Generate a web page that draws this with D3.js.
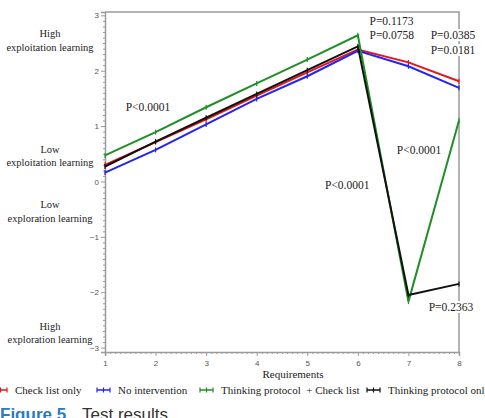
<!DOCTYPE html>
<html>
<head>
<meta charset="utf-8">
<script src="https://cdn.jsdelivr.net/npm/d3@7"></script>
<style>
  body { margin: 0; background: #fff; }
  svg { display: block; }
</style>
</head>
<body>
<div id="chart"></div>
<script>
// values
const requirements = [1, 2, 3, 4, 5, 6, 7, 8]
const checkListOnly = [0.30, 0.71, 1.12, 1.55, 1.97, 2.38, 2.15, 1.81]
const noIntervention = [0.16, 0.57, 1.03, 1.49, 1.90, 2.36, 2.08, 1.69]
const thinkingPlusCheck = [0.47, 0.89, 1.34, 1.77, 2.20, 2.64, -2.17, 1.10]
const thinkingOnly = [0.27, 0.72, 1.15, 1.58, 2.01, 2.44, -2.05, -1.85]

const seriesNames = ['Check list only', 'No intervention', 'Thinking protocol  + Check list', 'Thinking protocol only']
const seriesColors = ['#e8141b', '#2424f0', '#1f8f26', '#111111']
const yTicks = [3, 2, 1, 0, -1, -2, -3]

// level labels: [line 1, line 2, y value]
const levelLabels = [
    ['High', 'exploitation learning', 2.6],
    ['Low', 'exploitation learning', 0.52],
    ['Low', 'exploration learning', -0.48],
    ['High', 'exploration learning', -2.68]
]

// p-value notes: [text, x, y]
const pNotes = [
    ['P<0.0001', 1.41, 1.27],
    ['P=0.1173', 6.23, 2.83],
    ['P=0.0758', 6.23, 2.57],
    ['P=0.0385', 7.44, 2.57],
    ['P=0.0181', 7.44, 2.30],
    ['P<0.0001', 6.77, 0.50],
    ['P<0.0001', 5.35, -0.13],
    ['P=0.2363', 7.40, -2.34]
]

const W = 485
const H = 418
const plotLeft = 105
const plotRight = 459
const plotTop = 12
const plotBottom = 352

const svg = d3.select('#chart').append('svg')
    .attr('width', W)
    .attr('height', H)

const x = d3.scaleLinear().domain([1, 8]).range([plotLeft, plotRight])
const y = d3.scaleLinear().domain([-3.08, 3.06]).range([plotBottom, plotTop])

const serif = '\'Liberation Serif\', \'Times New Roman\', serif'
const axisGray = '#9a9a9a'

// frame (top and right)
svg.append('path')
    .attr('d', `M${plotLeft},${plotTop}H${plotRight}V${plotBottom}`)
    .attr('fill', 'none')
    .attr('stroke', axisGray)
    .attr('stroke-width', 1.5)

// minor ticks
const yMinor = d3.range(-30, 31).map(d => d / 10).filter(d => !yTicks.includes(d))
svg.append('g')
    .attr('transform', `translate(${plotLeft},0)`)
    .call(d3.axisLeft(y).tickValues(yMinor).tickSize(2).tickFormat(''))
    .call(g => g.select('.domain').remove())
    .call(g => g.selectAll('line').attr('stroke', axisGray))
const xMinor = d3.range(10, 81).map(d => d / 10).filter(d => !requirements.includes(d))
svg.append('g')
    .attr('transform', `translate(0,${plotBottom})`)
    .call(d3.axisBottom(x).tickValues(xMinor).tickSize(2).tickFormat(''))
    .call(g => g.select('.domain').remove())
    .call(g => g.selectAll('line').attr('stroke', axisGray))

// main axes
svg.append('g')
    .attr('transform', `translate(${plotLeft},0)`)
    .call(d3.axisLeft(y).tickValues(yTicks).tickSize(4).tickPadding(2).tickFormat(d3.format('d')))
    .call(g => g.select('.domain').attr('stroke', axisGray).attr('stroke-width', 1.5))
    .call(g => g.selectAll('line').attr('stroke', axisGray))
    .call(g => g.selectAll('text').attr('fill', '#555').attr('font-size', 8).attr('font-family', 'Arial, sans-serif'))

svg.append('g')
    .attr('transform', `translate(0,${plotBottom})`)
    .call(d3.axisBottom(x).tickValues(requirements).tickSize(4).tickPadding(4).tickFormat(d3.format('d')))
    .call(g => g.select('.domain').attr('stroke', axisGray).attr('stroke-width', 1.5))
    .call(g => g.selectAll('line').attr('stroke', axisGray))
    .call(g => g.selectAll('text').attr('fill', '#555').attr('font-size', 8).attr('font-family', 'Arial, sans-serif'))

svg.append('text')
    .attr('x', 293)
    .attr('y', 378)
    .attr('text-anchor', 'middle')
    .attr('font-family', serif)
    .attr('font-size', 11)
    .attr('fill', '#222')
    .text('Requirements')

// level labels
levelLabels.forEach(d => {
    const t = svg.append('text')
        .attr('text-anchor', 'middle')
        .attr('font-family', serif)
        .attr('font-size', 10.5)
        .attr('fill', '#222')
    t.append('tspan').attr('x', 50).attr('y', y(d[2])).text(d[0])
    t.append('tspan').attr('x', 50).attr('dy', 13.5).text(d[1])
})

// series
const allSeries = [checkListOnly, noIntervention, thinkingPlusCheck, thinkingOnly]
const line = d3.line()
    .x((d, i) => x(requirements[i]))
    .y(d => y(d))

allSeries.forEach((values, k) => {
    svg.append('path')
        .datum(values)
        .attr('d', line)
        .attr('fill', 'none')
        .attr('stroke', seriesColors[k])
        .attr('stroke-width', 2)
    svg.append('g')
        .selectAll('line').data(values).enter()
        .append('line')
        .attr('x1', (d, i) => x(requirements[i]))
        .attr('x2', (d, i) => x(requirements[i]))
        .attr('y1', d => y(d) - 2.5)
        .attr('y2', d => y(d) + 2.5)
        .attr('stroke', seriesColors[k])
        .attr('stroke-width', 1.2)
})

// p-value notes with white backing
pNotes.forEach(d => {
    const g = svg.append('g')
    const t = g.append('text')
        .attr('x', x(d[1]))
        .attr('y', y(d[2]))
        .attr('font-family', serif)
        .attr('font-size', 11.5)
        .attr('fill', '#222')
        .text(d[0])
    const b = t.node().getBBox()
    g.insert('rect', 'text')
        .attr('x', b.x - 1)
        .attr('y', b.y)
        .attr('width', b.width + 2)
        .attr('height', b.height)
        .attr('fill', '#fff')
})

// legend
const legendX = [-6, 97, 200, 367]
const legend = svg.append('g')
    .selectAll('g').data(seriesNames).enter()
    .append('g')
    .attr('transform', (d, i) => `translate(${legendX[i]},390)`)
legend.append('line')
    .attr('x1', 0).attr('x2', 13)
    .attr('stroke', (d, i) => seriesColors[i])
    .attr('stroke-width', 1.5)
legend.selectAll('.tk').data((d, i) => [0, 6.5, 13].map(v => [v, i])).enter()
    .append('line')
    .attr('class', 'tk')
    .attr('x1', d => d[0]).attr('x2', d => d[0])
    .attr('y1', -2.5).attr('y2', 2.5)
    .attr('stroke', d => seriesColors[d[1]])
    .attr('stroke-width', 1.2)
legend.append('text')
    .attr('x', 21)
    .attr('y', 4)
    .attr('font-family', serif)
    .attr('font-size', 11)
    .attr('fill', '#222')
    .attr('xml:space', 'preserve')
    .text(d => d)

// caption
const cap = svg.append('text')
    .attr('x', 0)
    .attr('y', 420)
    .attr('font-family', 'Arial, \'Liberation Sans\', sans-serif')
    .attr('font-size', 17)
    .attr('xml:space', 'preserve')
cap.append('tspan').attr('fill', '#2b7bc0').attr('font-weight', 600).text('Figure 5')
cap.append('tspan').attr('x', 82).attr('fill', '#333').text('Test results')
</script>
</body>
</html>
